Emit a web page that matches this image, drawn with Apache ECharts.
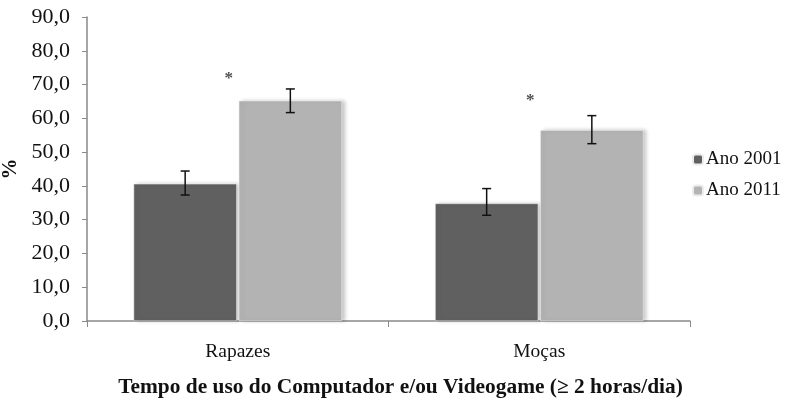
<!DOCTYPE html>
<html><head><meta charset="utf-8">
<script src="https://cdn.jsdelivr.net/npm/echarts@6/dist/echarts.min.js"></script>
<style>html,body{margin:0;padding:0;background:#fff}#c{width:798px;height:402px}</style>
</head><body><div id="c"></div>
<script>
const categories = ['Rapazes', 'Moças'];
const seriesNames = ['Ano 2001', 'Ano 2011'];
const values2001 = [40.6, 34.8];
const values2011 = [65.2, 56.5];
const err2001 = [[37.3, 44.4], [31.3, 39.2]];
const err2011 = [[61.7, 68.7], [52.5, 60.8]];
const starValues = [72.3, 65.7];
const yTicks = [0, 10, 20, 30, 40, 50, 60, 70, 80, 90];

const FONT = '"Liberation Serif", "Times New Roman", serif';
const BAR_W = 0.342, BAR_GAP = 0.02;

function errRender(sign) {
  return function (params, api) {
    const idx = api.value(0);
    const band = api.size([1, 0])[0];
    const off = sign * band * BAR_W * (1 + BAR_GAP) / 2;
    const cx = api.coord([idx, 0])[0] + off;
    const yl = api.coord([idx, api.value(1)])[1];
    const yh = api.coord([idx, api.value(2)])[1];
    const cap = 4.5;
    const st = { stroke: '#111', lineWidth: 1.5 };
    return { type: 'group', children: [
      { type: 'line', shape: { x1: cx, y1: yl, x2: cx, y2: yh }, style: st },
      { type: 'line', shape: { x1: cx - cap, y1: yh, x2: cx + cap, y2: yh }, style: st },
      { type: 'line', shape: { x1: cx - cap, y1: yl, x2: cx + cap, y2: yl }, style: st }
    ]};
  };
}

const barItem = (color) => ({ color: color, borderColor: '#ececec', borderWidth: 0.5,
  shadowColor: 'rgba(0,0,0,0.22)', shadowBlur: 4, shadowOffsetX: 3, shadowOffsetY: 0 });

const chart = echarts.init(document.getElementById('c'), null, { renderer: 'canvas' });
chart.setOption({
  animation: false,
  textStyle: { fontFamily: FONT },
  grid: { left: 87, right: 108, top: 17, bottom: 81, containLabel: false, outerBoundsMode: 'none' },
  legend: {
    orient: 'vertical', left: 687, top: 145, itemWidth: 10, itemHeight: 10, itemGap: 12,
    data: seriesNames,
    textStyle: { fontFamily: FONT, fontSize: 19, color: '#111', padding: [0, 0, 0, -2] }
  },
  xAxis: {
    type: 'category', data: categories,
    name: 'Tempo de uso do Computador e/ou Videogame (≥ 2 horas/dia)',
    nameLocation: 'middle', nameGap: 56,
    nameTextStyle: { fontFamily: FONT, fontSize: 21.4, fontWeight: 'bold', color: '#111', padding: [0, 0, 0, 24] },
    axisLine: { lineStyle: { color: '#898989', width: 1.5 } },
    axisTick: { show: true, length: 6, lineStyle: { color: '#898989' } },
    axisLabel: { fontFamily: FONT, fontSize: 19.5, color: '#111', margin: 21 }
  },
  yAxis: {
    type: 'value', min: 0, max: 90, interval: 10,
    name: '%', nameLocation: 'middle', nameGap: 62, nameRotate: 90,
    nameTextStyle: { fontFamily: FONT, fontSize: 21, fontWeight: 'bold', color: '#111' },
    splitLine: { show: false },
    axisLine: { show: true, lineStyle: { color: '#898989', width: 1.5 } },
    axisTick: { show: true, length: 5, lineStyle: { color: '#898989' } },
    axisLabel: { fontFamily: FONT, fontSize: 22, color: '#111', margin: 17,
      formatter: v => yTicks.includes(v) ? v.toFixed(1).replace('.', ',') : '' }
  },
  series: [
    { name: seriesNames[0], type: 'bar', data: values2001,
      barWidth: (BAR_W * 100) + '%', barGap: (BAR_GAP * 100) + '%', itemStyle: barItem('#606060') },
    { name: seriesNames[1], type: 'bar', data: values2011,
      barWidth: (BAR_W * 100) + '%', barGap: (BAR_GAP * 100) + '%', itemStyle: barItem('#b3b3b3') },
    { type: 'custom', renderItem: errRender(-1), z: 5, silent: true,
      data: err2001.map((e, i) => [i, e[0], e[1]]) },
    { type: 'custom', renderItem: errRender(1), z: 5, silent: true,
      data: err2011.map((e, i) => [i, e[0], e[1]]) },
    { type: 'scatter', symbolSize: 0, silent: true, z: 6,
      data: starValues.map((v, i) => [i, v]),
      label: { show: true, formatter: '*', position: 'inside', offset: [-9, 2],
        fontFamily: FONT, fontSize: 17, fontWeight: 'bold', color: '#222' } }
  ]
});
</script></body></html>
